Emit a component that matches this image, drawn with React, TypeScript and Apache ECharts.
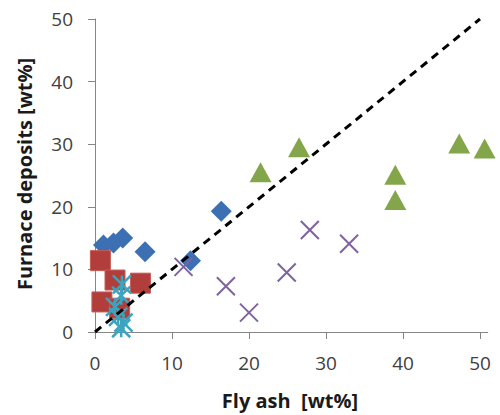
import React, { useEffect, useRef } from "react";
import * as echarts from "echarts";

const blueDiamonds: [number, number][] = [[1.1, 13.9], [2.4, 14.2], [3.6, 15.0], [6.5, 12.8], [12.4, 11.4], [16.4, 19.3]];
const redSquares: [number, number][] = [[0.7, 11.4], [2.6, 8.3], [5.9, 7.8], [0.9, 4.8], [3.2, 3.8]];
const greenTriangles: [number, number][] = [[21.5, 25.5], [26.5, 29.5], [39.0, 25.1], [39.0, 21.1], [47.3, 30.1], [50.6, 29.3]];
const purpleCrosses: [number, number][] = [[11.5, 10.4], [17.0, 7.3], [20.0, 3.1], [24.9, 9.5], [27.9, 16.3], [33.0, 14.1]];
const cyanStars: [number, number][] = [[3.5, 7.6], [3.4, 5.8], [2.6, 4.0], [3.0, 2.4], [3.7, 1.5], [3.4, 0.6]];
const parityLine: [number, number][] = [[0, 0], [50, 50]];
const xTicks = [0, 10, 20, 30, 40, 50];

const FONT = "'Open Sans', sans-serif";

export default function App() {
  const ref = useRef<HTMLDivElement>(null);
  useEffect(() => {
    if (!ref.current) return;
    const chart = echarts.init(ref.current, null, { renderer: "svg" });
    const axisColor = "#868686";
    const labelStyle = { color: "#404040", fontSize: 19, fontFamily: FONT };
    chart.setOption({
      animation: false,
      grid: { left: 95, right: 12.3, top: 19, bottom: 83, containLabel: false },
      xAxis: {
        type: "value",
        min: 0,
        max: 51,
        splitLine: { show: false },
        axisLine: { show: true, lineStyle: { color: axisColor, width: 1 } },
        axisTick: { show: true, length: 7, lineStyle: { color: axisColor }, customValues: xTicks },
        axisLabel: { ...labelStyle, margin: 21, customValues: xTicks },
      },
      yAxis: {
        type: "value",
        min: 0,
        max: 50,
        interval: 10,
        splitLine: { show: false },
        axisLine: { show: true, lineStyle: { color: axisColor, width: 1 } },
        axisTick: { show: true, length: 7, lineStyle: { color: axisColor } },
        axisLabel: { ...labelStyle, margin: 22 },
      },
      graphic: [
        {
          type: "text",
          x: 290,
          y: 400,
          style: { text: "Fly ash  [wt%]", fill: "#1a1a1a", font: `bold 20px ${FONT}`, textAlign: "center", textVerticalAlign: "middle" },
        },
        {
          type: "text",
          x: 24,
          y: 174,
          rotation: Math.PI / 2,
          style: { text: "Furnace deposits [wt%]", fill: "#1a1a1a", font: `bold 20px ${FONT}`, textAlign: "center", textVerticalAlign: "middle" },
        },
      ],
      series: [
        {
          type: "scatter",
          data: blueDiamonds,
          symbol: "diamond",
          symbolSize: [21, 21],
          clip: false,
          itemStyle: { color: "#3D70B3", opacity: 1 },
        },
        {
          type: "scatter",
          data: redSquares,
          symbol: "rect",
          symbolSize: [20, 20],
          clip: false,
          itemStyle: { color: "#B23E3B", borderColor: "#C45A57", borderWidth: 1, opacity: 1 },
        },
        {
          type: "scatter",
          data: greenTriangles,
          symbol: "triangle",
          symbolSize: [22, 20],
          clip: false,
          itemStyle: { color: "#84A64A", opacity: 1 },
        },
        {
          type: "scatter",
          data: purpleCrosses,
          symbol: "path://M0,0L10,10M10,0L0,10",
          symbolSize: 18,
          clip: false,
          itemStyle: { color: "none", borderColor: "#7F62A0", borderWidth: 2, opacity: 1 },
        },
        {
          type: "scatter",
          data: cyanStars,
          symbol: "path://M0,0L10,10M10,0L0,10M5,0L5,10",
          symbolSize: 18,
          clip: false,
          itemStyle: { color: "none", borderColor: "#3BA4BF", borderWidth: 2.5, opacity: 1 },
        },
        {
          type: "line",
          data: parityLine,
          symbol: "none",
          clip: false,
          lineStyle: { color: "#000000", width: 3, type: [8, 6] },
        },
      ],
    });
    return () => chart.dispose();
  }, []);
  return <div ref={ref} style={{ position: "absolute", left: 0, top: 0, width: 500, height: 415 }} />;
}
